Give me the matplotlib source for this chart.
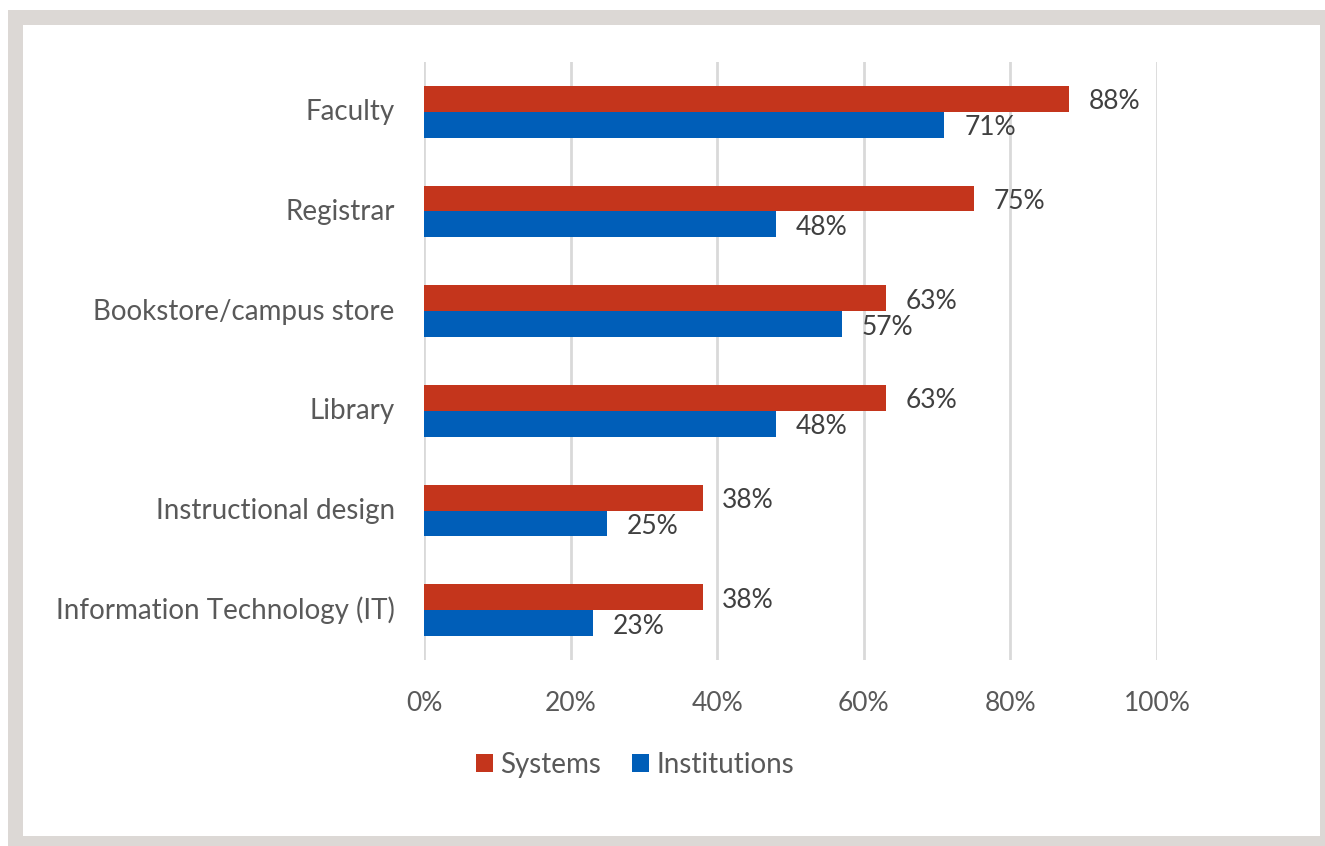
import numpy as np
import matplotlib.pyplot as plt
from matplotlib.patches import Rectangle
from matplotlib.transforms import ScaledTranslation

# Datos
categories = ['Faculty', 'Registrar', 'Bookstore/campus store', 'Library',
              'Instructional design', 'Information Technology (IT)']
systems = [88, 75, 63, 63, 38, 38]
institutions = [71, 48, 57, 48, 25, 23]
xticks = [0, 20, 40, 60, 80, 100]
xtick_labels = ['0%', '20%', '40%', '60%', '80%', '100%']

red = '#C4351C'
blue = '#005EB8'
grey_text = '#595959'

plt.rcParams['font.family'] = ['Lato', 'DejaVu Sans']

W, H = 1325, 846
fig = plt.figure(figsize=(W / 100, H / 100), dpi=100)

# Marco gris alrededor del grafico
fig.patches.append(Rectangle((8 / W, 0), 1, 1 - 10 / H, transform=fig.transFigure,
                             facecolor='#DCD8D5', edgecolor='none', zorder=-2))
fig.patches.append(Rectangle((23 / W, 10 / H), (1320 - 23) / W, (836 - 25) / H,
                             transform=fig.transFigure, facecolor='white',
                             edgecolor='none', zorder=-1))

ax = fig.add_axes([424 / W, 1 - 660 / H, (1157 - 424) / W, (660 - 62) / H])
ax.set_facecolor('none')

y = np.arange(len(categories))
h = 0.26
ax.barh(y - h / 2, systems, height=h, color=red, label='Systems', zorder=3)
ax.barh(y + h / 2, institutions, height=h, color=blue, label='Institutions', zorder=3)

shift = ScaledTranslation(0, -3 / 100, fig.dpi_scale_trans)
for yi, v in zip(y, systems):
    ax.text(v + 2.7, yi - h / 2, f'{v}%', va='center', ha='left',
            fontsize=19, color='#404040', transform=ax.transData + shift)
for yi, v in zip(y, institutions):
    ax.text(v + 2.7, yi + h / 2, f'{v}%', va='center', ha='left',
            fontsize=19, color='#404040', transform=ax.transData + shift)

ax.set_xlim(0, 100)
ax.set_ylim(len(categories) - 0.5, -0.5)
ax.set_xticks(xticks)
ax.set_xticklabels(xtick_labels)
ax.set_yticks(y)
ax.set_yticklabels(categories)
ax.tick_params(axis='both', length=0, labelcolor=grey_text)
ax.tick_params(axis='x', pad=22, labelsize=19)
ax.tick_params(axis='y', pad=21, labelsize=20)
up = ScaledTranslation(0, 2 / 100, fig.dpi_scale_trans)
for lab in ax.get_yticklabels():
    lab.set_transform(lab.get_transform() + up)
ax.grid(axis='x', color='#D9D9D9', linewidth=2, zorder=0)
for s in ax.spines.values():
    s.set_visible(False)

fig.legend(loc='center', bbox_to_anchor=(635 / W, 1 - 765 / H), ncol=2,
           frameon=False, fontsize=20, labelcolor=grey_text,
           handlelength=0.62, handleheight=0.62, handletextpad=0.25,
           columnspacing=1.1)

fig.savefig('out.png', dpi=100)
